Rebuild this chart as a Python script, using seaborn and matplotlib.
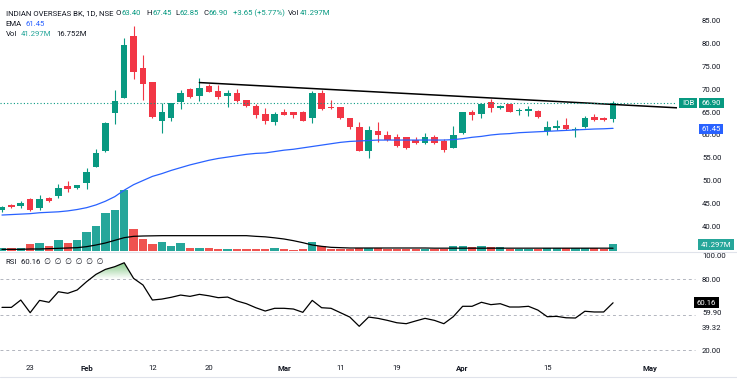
import numpy as np
import matplotlib
matplotlib.use("Agg")
import matplotlib.pyplot as plt
import seaborn as sns
from matplotlib.colors import LinearSegmentedColormap

# -------------------------
# Data (one candle per trading day)
# -------------------------
opens = [43.6, 44.8, 44.6, 46.0, 44.1, 46.3, 46.7, 49.0, 48.4, 49.5,
         53.1, 56.6, 64.7, 68.0, 81.6, 74.6, 71.5, 63.1, 63.8, 67.2,
         70.0, 68.5, 70.7, 69.6, 68.5, 69.2, 67.6, 66.3, 64.6, 62.9,
         65.1, 64.9, 64.9, 63.6, 69.1, 66.1, 66.0, 63.8, 61.7, 56.5,
         60.9, 60.0, 59.6, 59.5, 58.9, 58.3, 59.5, 58.8, 57.2, 60.5,
         65.1, 64.5, 67.2, 65.8, 66.7, 65.3, 65.3, 65.3, 60.9, 61.6,
         62.2, 61.05, 61.8, 64.0, 63.6, 63.40]
highs = [44.6, 45.0, 45.6, 46.3, 47.0, 46.6, 49.3, 50.1, 49.2, 52.8,
         57.0, 62.9, 69.8, 81.0, 83.7, 77.4, 71.6, 66.9, 67.0, 69.8,
         70.2, 72.5, 71.1, 70.8, 69.8, 69.9, 67.7, 66.7, 65.9, 65.1,
         65.6, 64.9, 65.2, 69.6, 69.8, 67.6, 66.1, 63.8, 62.9, 62.0,
         62.9, 60.9, 60.2, 59.5, 59.6, 60.4, 60.1, 59.1, 62.0, 65.1,
         65.4, 67.0, 67.8, 66.6, 66.8, 65.8, 66.3, 65.4, 63.1, 63.3,
         63.8, 61.8, 64.1, 64.5, 64.0, 67.45]
lows = [43.3, 44.2, 44.2, 43.5, 43.6, 45.5, 46.3, 47.7, 48.3, 48.2,
        53.0, 56.2, 62.4, 68.0, 72.1, 67.6, 63.8, 60.5, 63.1, 65.6,
        68.1, 67.5, 69.3, 67.8, 66.1, 67.2, 66.1, 63.8, 62.4, 62.2,
        64.3, 63.8, 63.0, 62.7, 65.5, 65.6, 63.5, 61.3, 56.5, 55.1,
        58.5, 58.8, 57.4, 56.9, 58.1, 58.1, 58.1, 56.4, 57.2, 60.2,
        63.3, 63.8, 64.9, 65.7, 65.0, 64.3, 64.2, 63.8, 60.0, 61.0,
        61.1, 59.5, 61.6, 63.1, 63.1, 62.85]
closes = [44.3, 44.3, 45.3, 43.6, 46.1, 45.7, 48.5, 48.3, 49.1, 52.0,
          56.0, 62.5, 67.5, 79.6, 73.8, 71.0, 64.0, 65.1, 66.9, 69.2,
          68.2, 70.2, 69.4, 68.3, 69.2, 67.5, 66.2, 64.4, 63.1, 64.6,
          64.4, 64.4, 63.1, 69.2, 65.6, 65.9, 63.6, 61.8, 56.5, 61.1,
          60.0, 58.9, 57.6, 57.1, 58.3, 59.5, 58.3, 56.7, 60.0, 64.9,
          64.4, 66.7, 65.8, 66.4, 65.1, 65.35, 65.6, 64.0, 61.7, 62.0,
          61.2, 61.15, 63.6, 63.3, 63.25, 66.90]
volumes = [20, 16, 20, 44, 50, 30, 66, 50, 66, 116,
           152, 228, 246, 364, 132, 74, 44, 54, 30, 48,
           16, 20, 16, 10, 10, 10, 14, 14, 14, 18,
           14, 8, 14, 52, 30, 14, 14, 14, 18, 18,
           18, 14, 14, 14, 14, 14, 12, 14, 30, 28,
           22, 28, 22, 22, 14, 14, 14, 14, 18, 18,
           18, 18, 18, 18, 12, 41.297]
vol_ma = [10, 10, 10, 12, 12, 14, 16, 18, 20, 26,
          36, 48, 64, 80, 88, 90, 91, 92, 92, 92,
          92, 92, 92, 92, 92, 92, 92, 88, 85, 79,
          72, 62, 50, 36, 28, 22, 20, 18, 18, 18,
          18, 18, 18, 18, 18, 18, 17, 17, 17, 17,
          17, 17, 17, 17, 17, 17, 17, 17, 17, 17,
          17, 17, 17, 17, 17, 16.752]
ema = [42.6, 42.7, 42.8, 42.9, 43.1, 43.2, 43.3, 43.5, 43.8, 44.2,
       44.8, 45.6, 46.6, 48.0, 49.2, 50.1, 51.0, 51.6, 52.3, 52.9,
       53.5, 54.0, 54.5, 54.9, 55.2, 55.5, 55.8, 56.0, 56.1, 56.4,
       56.7, 56.9, 57.2, 57.5, 57.8, 58.1, 58.4, 58.6, 58.7, 58.8,
       58.9, 58.9, 58.9, 58.9, 58.9, 58.9, 58.9, 58.9, 59.0, 59.2,
       59.5, 59.7, 60.0, 60.2, 60.3, 60.5, 60.6, 60.7, 60.8, 60.9,
       61.0, 61.1, 61.2, 61.3, 61.35, 61.45]
rsi = [56.3, 56.3, 62.5, 51.8, 62.2, 60.6, 69.5, 68.2, 71.0, 78.0,
       84.2, 88.4, 90.7, 94.0, 80.8, 75.2, 62.5, 63.3, 64.8, 66.7,
       65.6, 67.3, 66.1, 64.5, 65.0, 61.7, 59.4, 56.0, 53.2, 55.5,
       55.5, 54.9, 52.1, 62.2, 56.0, 55.5, 51.8, 48.1, 40.3, 48.1,
       47.0, 45.3, 43.3, 42.5, 44.8, 47.0, 45.3, 42.5, 48.4, 57.2,
       57.2, 60.6, 58.6, 59.4, 56.6, 56.6, 57.2, 54.0, 48.4, 48.7,
       47.5, 47.3, 53.0, 52.4, 52.4, 60.16]

# user-drawn resistance line (bar index, price)
trend_x = [21, 71.9]
trend_y = [71.4, 65.9]

date_ticks = [3, 9, 16, 22, 30, 36, 42, 49, 58, 68.9]
date_labels = ["23", "Feb", "12", "20", "Mar", "11", "19", "Apr", "15", "May"]
price_ticks = [40, 45, 50, 55, 60, 65, 70, 75, 80, 85]
rsi_ticks = [100, 80, 20]
rsi_bands = [80, 50, 20]

# -------------------------
# Style
# -------------------------
W, H = 737, 379
UP, DOWN = "#089981", "#f23645"
VUP, VDOWN = "#26a69a", "#ef5350"
TXT = "#131722"
FS = 5.6

sns.set_theme(style="white")
plt.rcParams["font.family"] = ["Roboto", "DejaVu Sans"]


def fx(px):
    return px / W


def fy(py):
    return 1 - py / H


x = np.arange(len(closes))
o, h, l, c = map(np.asarray, (opens, highs, lows, closes))
up = c >= o

fig = plt.figure(figsize=(W / 100, H / 100), dpi=100)
fig.patch.set_facecolor("white")

# -------------------------
# Price pane (+ volume overlay)
# -------------------------
ax = fig.add_axes([0, fy(251), 677 / W, 251 / H])
axv = ax.twinx()
ax.set_zorder(axv.get_zorder() + 1)
ax.patch.set_visible(False)

axv.bar(x, volumes, width=0.88, color=np.where(up, VUP, VDOWN), linewidth=0)
sns.lineplot(x=x, y=vol_ma, ax=axv, color="black", linewidth=0.9)
axv.set_ylim(0, 251 * 6)
axv.set_yticks([])
axv.set_ylabel("")

cols = np.where(up, UP, DOWN)
ax.vlines(x, l, h, colors=cols, linewidth=0.8)
ax.bar(x, np.maximum(np.abs(c - o), 0.2), bottom=np.minimum(o, c),
       width=0.7, color=cols, linewidth=0)
sns.lineplot(x=x, y=ema, ax=ax, color="#2962ff", linewidth=0.9)
ax.plot(trend_x, trend_y, color="black", linewidth=1.1)
ax.axhline(closes[-1], color=UP, linestyle=(0, (1, 2)), linewidth=0.8)

ax.set_xlim(-0.21, 71.8)
ax.set_ylim(34.78, 89.35)
ax.yaxis.tick_right()
ax.set_yticks(price_ticks)
ax.set_yticklabels([f"{v:.2f}" for v in price_ticks])
ax.tick_params(axis="y", length=0, pad=18, labelsize=FS, labelcolor=TXT)
ax.set_xticks([])
for a in (ax, axv):
    for s in a.spines.values():
        s.set_visible(False)

# -------------------------
# RSI pane
# -------------------------
axr = fig.add_axes([0, fy(358), 677 / W, 106 / H])
r = np.asarray(rsi)
poly = axr.fill_between(x, r, 80, where=r > 80, interpolate=True,
                        facecolor="none", edgecolor="none")
cmap = LinearSegmentedColormap.from_list(
    "ob", [(0.30, 0.69, 0.31, 0.0), (0.30, 0.69, 0.31, 0.75)])
grad = np.linspace(0, 1, 256).reshape(-1, 1)
im = axr.imshow(grad, extent=[0, 20, 80, 95], origin="lower", cmap=cmap,
                aspect="auto", zorder=1)
im.set_clip_path(poly.get_paths()[0], transform=axr.transData)

for b in rsi_bands:
    axr.axhline(b, xmin=0, xmax=695 / 677, color="#b2b5be",
                linestyle=(0, (3, 3)), linewidth=0.7, clip_on=False)
sns.lineplot(x=x, y=rsi, ax=axr, color="black", linewidth=0.9, zorder=3)

axr.set_xlim(-0.21, 71.8)
axr.set_ylim(13.5, 103.1)
axr.yaxis.tick_right()
axr.set_yticks(rsi_ticks)
axr.set_yticklabels([f"{v:.2f}" for v in rsi_ticks])
axr.tick_params(axis="y", length=0, pad=18, labelsize=FS, labelcolor=TXT)
axr.set_xticks(date_ticks)
axr.set_xticklabels(date_labels)
axr.tick_params(axis="x", length=0, pad=5, labelsize=FS, labelcolor=TXT)
for t in axr.get_xticklabels():
    if t.get_text().isalpha():
        t.set_fontweight("bold")
axr.set_ylabel("")
for s in axr.spines.values():
    s.set_visible(False)

# pane separators
fig.add_artist(plt.Line2D([0, 1], [fy(251.5), fy(251.5)], color="#e0e3eb", linewidth=0.8))
fig.add_artist(plt.Line2D([0, 1], [fy(377), fy(377)], color="#e0e3eb", linewidth=0.8))

# -------------------------
# Legends / header
# -------------------------
def label_value(px, py, label, value, vcolor, gap=0.0):
    # label in dark text, value glued right after it in its own colour
    t = fig.text(fx(px), fy(py), label, color=TXT, fontsize=FS, va="center", ha="left")
    ax.annotate(value, xy=(1, 0.5), xycoords=t, xytext=(gap, 0), textcoords="offset points",
                color=vcolor, fontsize=FS, va="center", ha="left", annotation_clip=False)


fig.text(fx(5.7), fy(13.3), "INDIAN OVERSEAS BK, 1D, NSE", color=TXT, fontsize=FS, va="center")
label_value(115.7, 13.3, "O", "63.40", UP)
label_value(146.7, 13.3, "H", "67.45", UP)
label_value(175.7, 13.3, "L", "62.85", UP)
label_value(203.3, 13.3, "C", "66.90", UP)
fig.text(fx(233.3), fy(13.3), "+3.65 (+5.77%)", color=UP, fontsize=FS, va="center")
label_value(288.3, 13.3, "Vol", "41.297M", UP)

label_value(5.7, 24, "EMA", "61.45", "#2962ff", gap=3)
label_value(5.7, 34, "Vol", "41.297M", VUP, gap=3)
fig.text(fx(56.7), fy(34), "16.752M", color=TXT, fontsize=FS, va="center")
label_value(5.7, 262.3, "RSI", "60.16  \u2205  \u2205  \u2205  \u2205  \u2205  \u2205", TXT, gap=3)


# right-scale value boxes
def tag(px, py, s, bg, ha="center"):
    fig.text(fx(px), fy(py), s, color="white", fontsize=FS, va="center", ha=ha,
             bbox=dict(boxstyle="square,pad=0.3", fc=bg, ec="none"))


tag(688, 103, "IOB", UP)
tag(711.5, 103, "66.90", UP)
tag(711, 129, "61.45", "#2962ff")
tag(716, 244.5, "41.297M", VUP)
tag(706.5, 302.7, "60.16", "black")
fig.text(fx(702), fy(313.3), "59.90", color=TXT, fontsize=FS, va="center")
fig.text(fx(702), fy(327.7), "39.32", color=TXT, fontsize=FS, va="center")

fig.savefig("out.png", dpi=100)
